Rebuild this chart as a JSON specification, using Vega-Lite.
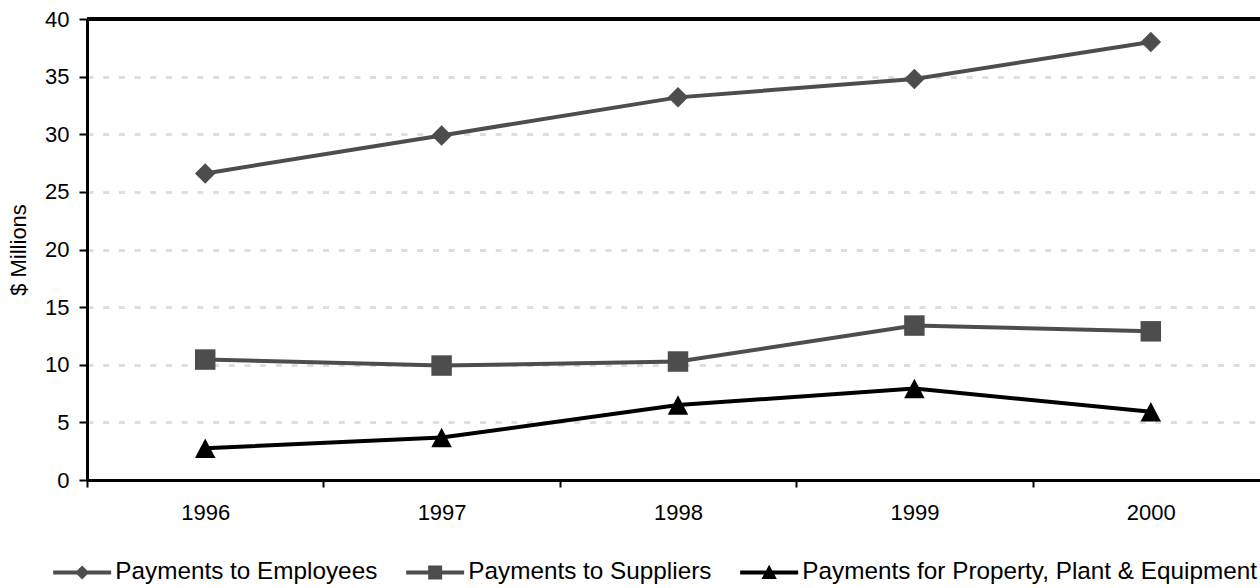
{
  "$schema": "https://vega.github.io/schema/vega-lite/v6.json",
  "width": 1173,
  "height": 461,
  "autosize": {"type": "none"},
  "padding": {"left": 87, "top": 19, "right": 0, "bottom": 108},
  "background": "white",
  "config": {
    "view": {"stroke": null},
    "font": "Liberation Sans"
  },
  "data": {
    "values": [
      {"year": "1996", "series": "Payments to Employees", "value": 26.6},
      {"year": "1997", "series": "Payments to Employees", "value": 29.9},
      {"year": "1998", "series": "Payments to Employees", "value": 33.2},
      {"year": "1999", "series": "Payments to Employees", "value": 34.8},
      {"year": "2000", "series": "Payments to Employees", "value": 38.0},
      {"year": "1996", "series": "Payments to Suppliers", "value": 10.45},
      {"year": "1997", "series": "Payments to Suppliers", "value": 9.93},
      {"year": "1998", "series": "Payments to Suppliers", "value": 10.28},
      {"year": "1999", "series": "Payments to Suppliers", "value": 13.4},
      {"year": "2000", "series": "Payments to Suppliers", "value": 12.9},
      {"year": "1996", "series": "Payments for Property, Plant & Equipment", "value": 2.75},
      {"year": "1997", "series": "Payments for Property, Plant & Equipment", "value": 3.68},
      {"year": "1998", "series": "Payments for Property, Plant & Equipment", "value": 6.5},
      {"year": "1999", "series": "Payments for Property, Plant & Equipment", "value": 7.93},
      {"year": "2000", "series": "Payments for Property, Plant & Equipment", "value": 5.93}
    ]
  },
  "layer": [
    {
      "mark": {"type": "rule", "color": "black", "strokeWidth": 3},
      "encoding": {"y": {"datum": 40}}
    },
    {
      "mark": {"type": "line", "strokeWidth": 4},
      "encoding": {
        "x": {
          "field": "year",
          "type": "nominal",
          "sort": null,
          "scale": {"type": "band", "range": [0, 1182], "paddingInner": 0, "paddingOuter": 0},
          "axis": {
            "title": null,
            "labelFontSize": 22,
            "labelColor": "black",
            "labelAngle": 0,
            "labelPadding": 15,
            "domainColor": "black",
            "domainWidth": 3,
            "tickColor": "black",
            "tickWidth": 2,
            "tickSize": 7,
            "tickBand": "extent",
            "grid": false
          }
        },
        "y": {
          "field": "value",
          "type": "quantitative",
          "scale": {"domain": [0, 40], "nice": false},
          "axis": {
            "title": "$ Millions",
            "values": [0, 5, 10, 15, 20, 25, 30, 35, 40],
            "labelFontSize": 22,
            "labelColor": "black",
            "labelPadding": 10,
            "domainColor": "black",
            "domainWidth": 3,
            "tickColor": "black",
            "tickWidth": 2,
            "tickSize": 8,
            "grid": true,
            "gridColor": "#dedede",
            "gridDash": [6, 9.7],
            "gridWidth": 3,
            "titleFontSize": 22,
            "titleFontWeight": "normal",
            "titleColor": "black",
            "titlePadding": 14
          }
        },
        "color": {
          "field": "series",
          "type": "nominal",
          "scale": {
            "domain": ["Payments to Employees", "Payments to Suppliers", "Payments for Property, Plant & Equipment"],
            "range": ["#4d4d4d", "#4d4d4d", "#000000"]
          },
          "legend": null
        }
      }
    },
    {
      "mark": {"type": "point", "filled": true, "opacity": 1, "size": 420},
      "encoding": {
        "x": {"field": "year", "type": "nominal", "sort": null},
        "y": {"field": "value", "type": "quantitative"},
        "color": {
          "field": "series",
          "type": "nominal",
          "scale": {
            "domain": ["Payments to Employees", "Payments to Suppliers", "Payments for Property, Plant & Equipment"],
            "range": ["#4d4d4d", "#4d4d4d", "#000000"]
          },
          "legend": null
        },
        "shape": {
          "field": "series",
          "type": "nominal",
          "scale": {
            "domain": ["Payments to Employees", "Payments to Suppliers", "Payments for Property, Plant & Equipment"],
            "range": ["diamond", "square", "M0,-0.95L1,0.95L-1,0.95Z"]
          },
          "legend": null
        }
      }
    },
    {
      "mark": {"type": "point", "filled": true, "opacity": 0, "size": 196},
      "encoding": {
        "x": {"field": "year", "type": "nominal", "sort": null},
        "y": {"field": "value", "type": "quantitative"},
        "color": {
          "field": "series",
          "type": "nominal",
          "scale": {
            "domain": ["Payments to Employees", "Payments to Suppliers", "Payments for Property, Plant & Equipment"],
            "range": ["#4d4d4d", "#4d4d4d", "#000000"]
          },
          "legend": {
            "title": null,
            "orient": "none",
            "legendX": -17,
            "legendY": 541,
            "direction": "horizontal",
            "labelFontSize": 24.3,
            "labelColor": "black",
            "labelLimit": 0,
            "labelOffset": 21,
            "columnPadding": 28,
            "symbolSize": 196,
            "symbolOpacity": 1,
            "symbolStrokeWidth": 0
          }
        },
        "shape": {
          "field": "series",
          "type": "nominal",
          "scale": {
            "domain": ["Payments to Employees", "Payments to Suppliers", "Payments for Property, Plant & Equipment"],
            "range": [
              "M-4.14,-0.29L4.14,-0.29L4.14,0.29L-4.14,0.29ZM0,-1L1,0L0,1L-1,0Z",
              "M-4.14,-0.29L4.14,-0.29L4.14,0.29L-4.14,0.29ZM-1,-1L1,-1L1,1L-1,1Z",
              "M-4.14,-0.29L4.14,-0.29L4.14,0.29L-4.14,0.29ZM0,-1.1L1.1,0.95L-1.1,0.95Z"
            ]
          },
          "legend": {
            "title": null,
            "orient": "none",
            "legendX": -17,
            "legendY": 541,
            "direction": "horizontal",
            "labelFontSize": 24.3,
            "labelColor": "black",
            "labelLimit": 0,
            "labelOffset": 21,
            "columnPadding": 28,
            "symbolSize": 196,
            "symbolOpacity": 1,
            "symbolStrokeWidth": 0
          }
        }
      }
    }
  ],
  "resolve": {"scale": {"color": "independent", "shape": "independent"}}
}
